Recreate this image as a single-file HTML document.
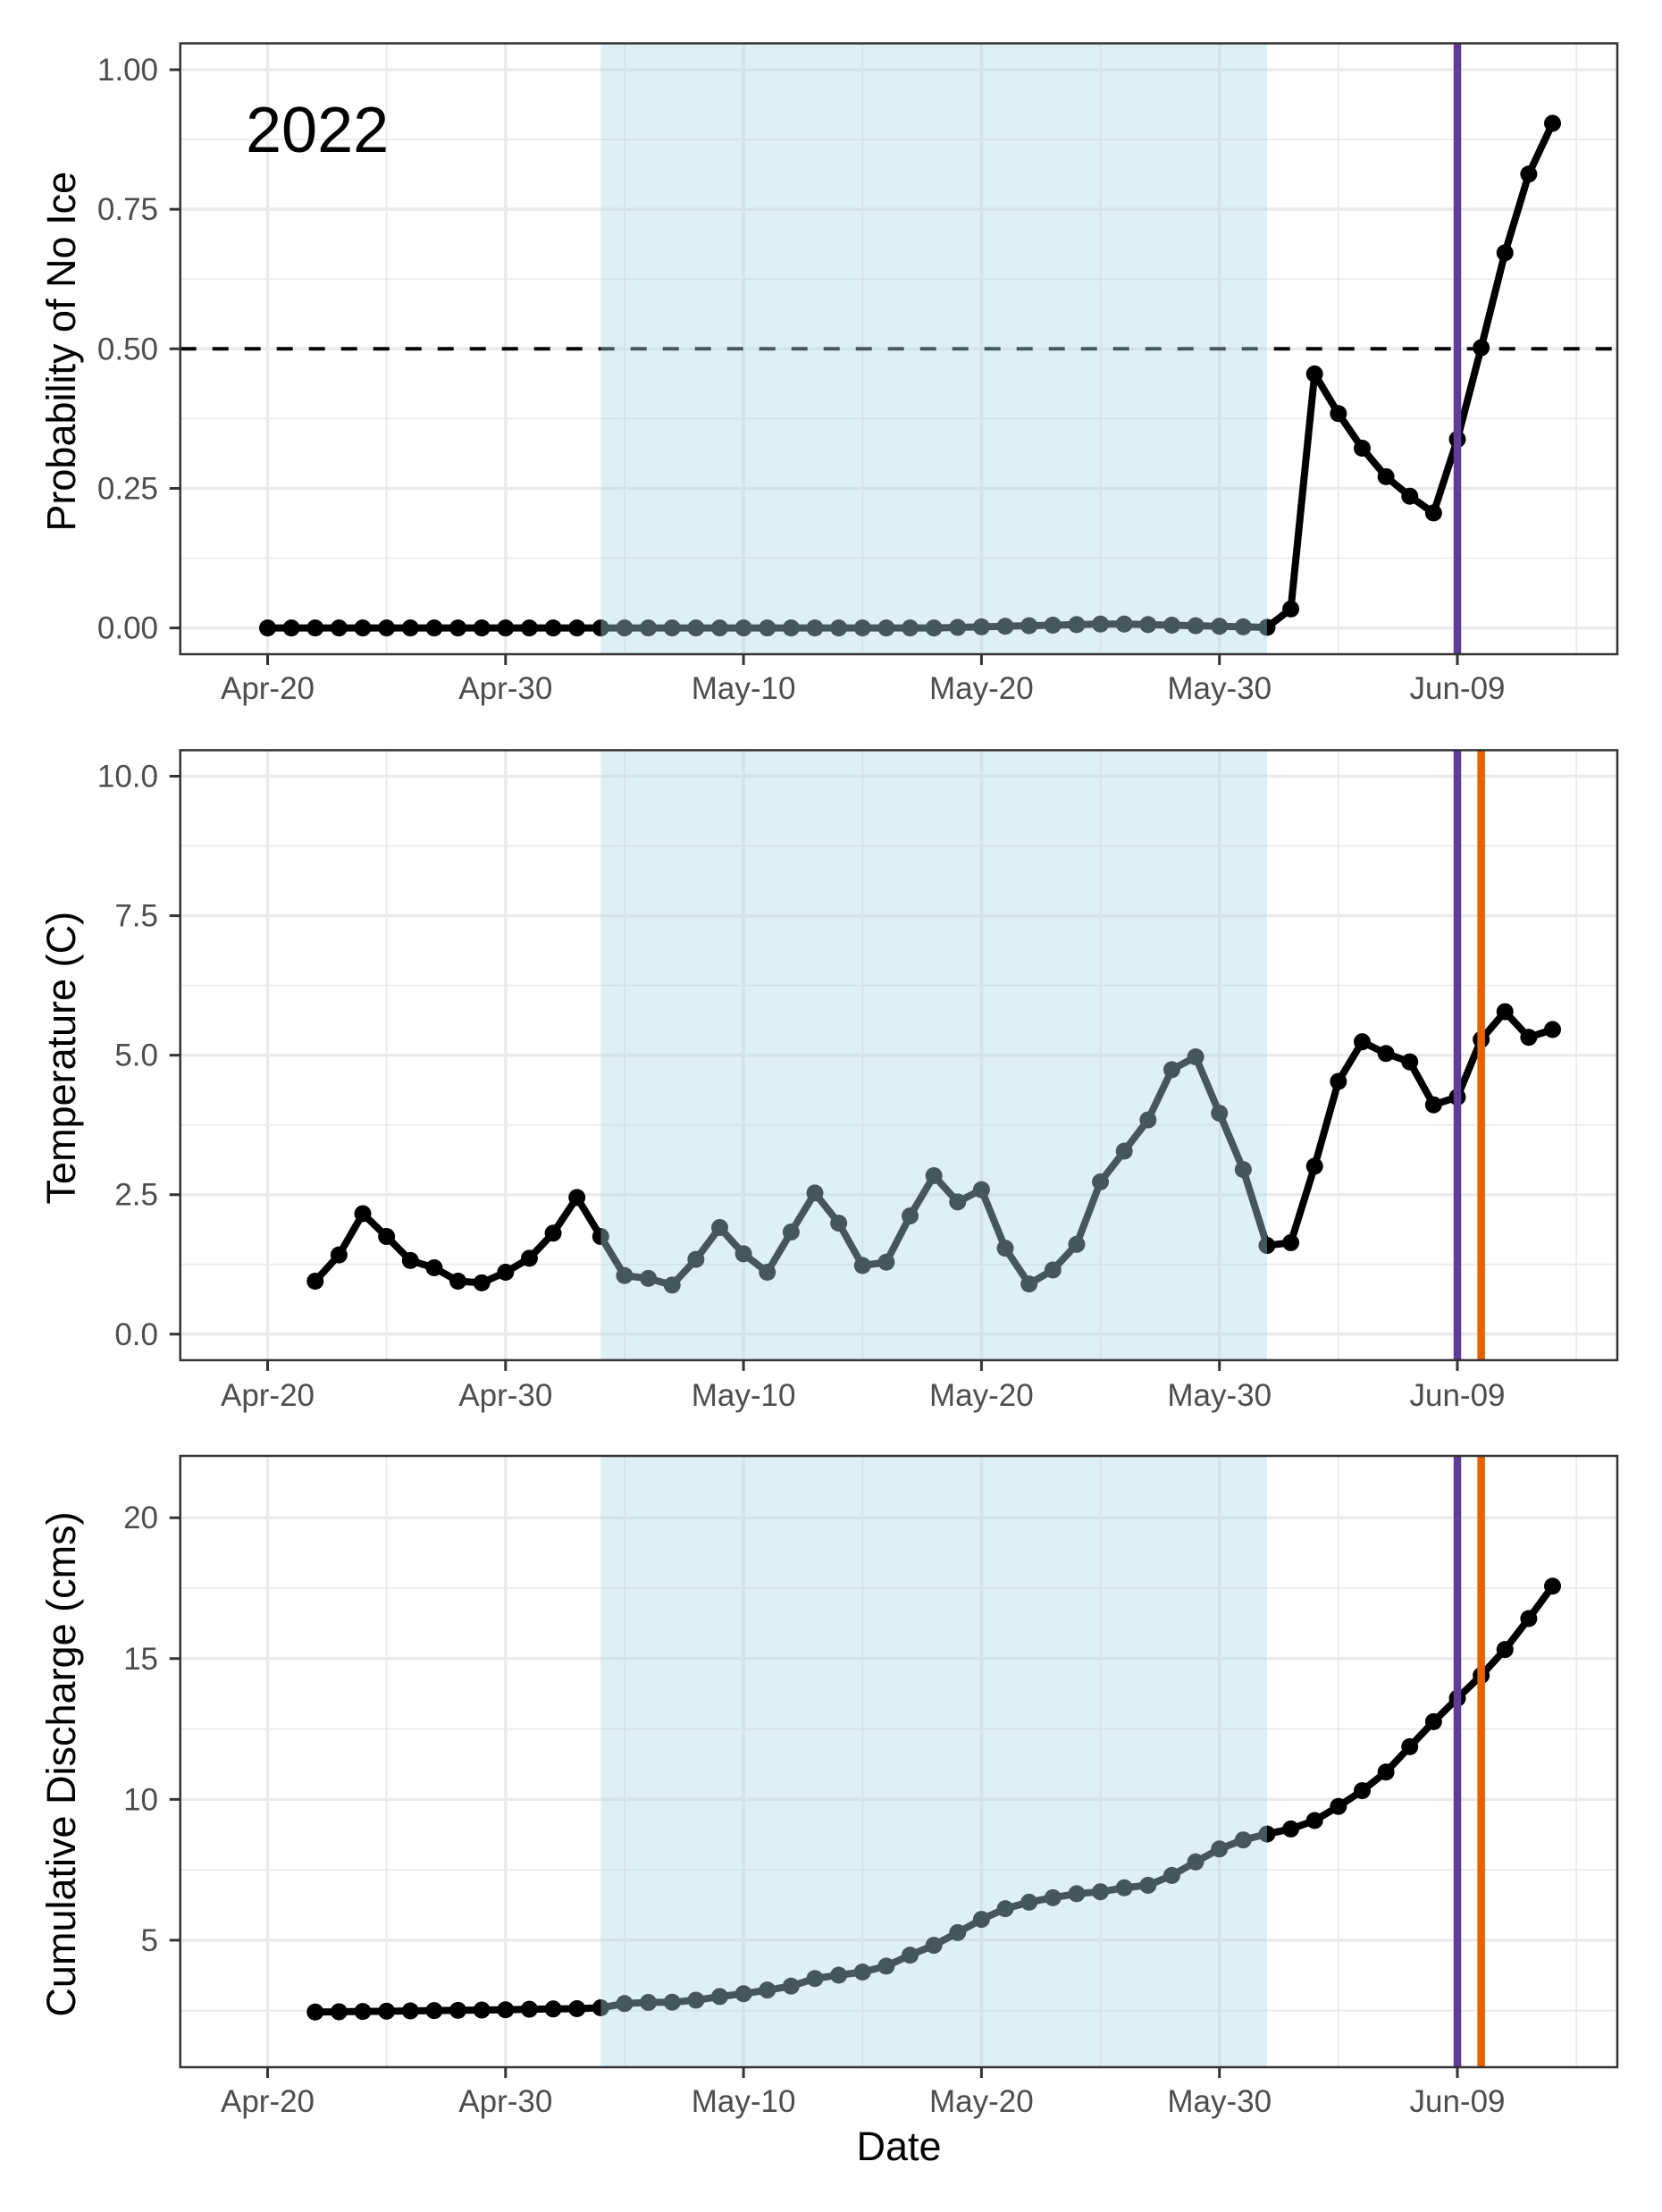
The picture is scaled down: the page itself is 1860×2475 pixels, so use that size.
<!DOCTYPE html>
<html>
<head>
<meta charset="utf-8">
<style>
html,body{margin:0;padding:0;background:#fff;}
svg{display:block;}
text{font-family:"Liberation Sans",Arial,sans-serif;}
</style>
</head>
<body>
<svg id="chart" width="1860" height="2475" viewBox="0 0 1860 2475" xmlns="http://www.w3.org/2000/svg">
<rect x="0" y="0" width="1860" height="2475" fill="#fff"/>
</svg>
<script>
// ---- data ----
const startDays = [0, 2, 2];
const dateTickLabels = ["Apr-20", "Apr-30", "May-10", "May-20", "May-30", "Jun-09"];
const dateTickDays = [0, 10, 20, 30, 40, 50];
const shadeStartDay = 14;
const shadeEndDay = 42;
const iceOutDay = 50;
const tempEventDay = 51;
const probValues = [0,0,0,0,0,0,0,0,0,0,0,0,0,0,0,0,0,0,0,0,0,0,0,0,0,0,0,0,0,0.001,0.002,0.003,0.004,0.005,0.006,0.007,0.007,0.006,0.005,0.004,0.003,0.002,0.001,0.034,0.455,0.384,0.322,0.271,0.236,0.206,0.338,0.502,0.672,0.813,0.904];
const tempValues = [0.95,1.42,2.16,1.75,1.32,1.19,0.95,0.92,1.11,1.36,1.81,2.45,1.75,1.05,1.0,0.88,1.34,1.91,1.44,1.11,1.83,2.53,1.99,1.23,1.29,2.12,2.84,2.37,2.59,1.54,0.90,1.15,1.61,2.73,3.28,3.84,4.74,4.97,3.96,2.95,1.59,1.64,3.01,4.53,5.24,5.03,4.88,4.11,4.25,5.28,5.78,5.32,5.46];
const dischargeValues = [2.45,2.46,2.47,2.48,2.49,2.50,2.51,2.52,2.53,2.55,2.56,2.57,2.60,2.75,2.79,2.80,2.87,3.0,3.1,3.23,3.37,3.64,3.76,3.87,4.08,4.47,4.82,5.27,5.74,6.12,6.35,6.51,6.65,6.72,6.86,6.95,7.30,7.78,8.24,8.56,8.77,8.95,9.25,9.75,10.31,10.97,11.87,12.76,13.59,14.40,15.32,16.42,17.57];
const probTicks = [0, 0.25, 0.5, 0.75, 1.0];
const probTickLabels = ["0.00", "0.25", "0.50", "0.75", "1.00"];
const tempTicks = [0, 2.5, 5, 7.5, 10];
const tempTickLabels = ["0.0", "2.5", "5.0", "7.5", "10.0"];
const dischargeTicks = [5, 10, 15, 20];
const dischargeTickLabels = ["5", "10", "15", "20"];

const NS = "http://www.w3.org/2000/svg";
const svg = document.getElementById("chart");
function mk(tag, attrs, parent){
  const e = document.createElementNS(NS, tag);
  for (const k in attrs) e.setAttribute(k, attrs[k]);
  (parent || svg).appendChild(e);
  return e;
}
const X0 = 201.7, X1 = 1810;
function xScale(d){ return 299.5 + 26.63 * d; }

const panels = [
  {name:"probability", top:48.5, bottom:732, v0:0, y0:702.6, v1:1, y1:78, ticks:probTicks, labels:probTickLabels, minor:[0.125,0.375,0.625,0.875], values:probValues, start:startDays[0], title:"Probability of No Ice", xlabY:782, dashed:true, lines:[iceOutDay]},
  {name:"temperature", top:839.4, bottom:1521.9, v0:0, y0:1492.8, v1:10, y1:868.5, ticks:tempTicks, labels:tempTickLabels, minor:[1.25,3.75,6.25,8.75], values:tempValues, start:startDays[1], title:"Temperature (C)", xlabY:1573, lines:[iceOutDay, tempEventDay]},
  {name:"discharge", top:1629, bottom:2313, v0:5, y0:2170.9, v1:20, y1:1698.2, ticks:dischargeTicks, labels:dischargeTickLabels, minor:[2.5,7.5,12.5,17.5], values:dischargeValues, start:startDays[2], title:"Cumulative Discharge (cms)", xlabY:2363, lines:[iceOutDay, tempEventDay]}
];
const lineColors = ["#5e3c99", "#e66101"];

panels.forEach(p => {
  const yS = v => p.y0 + (v - p.v0) * (p.y1 - p.y0) / (p.v1 - p.v0);
  const g = mk("g", {});
  
  
  mk("rect", {x:X0, y:p.top, width:X1-X0, height:p.bottom-p.top, fill:"#fff"}, g);
  p.minor.forEach(v => mk("line", {x1:X0, x2:X1, y1:yS(v), y2:yS(v), stroke:"#ebebeb", "stroke-width":1.8}, g));
  [5,15,25,35,45,55].forEach(d => mk("line", {x1:xScale(d), x2:xScale(d), y1:p.top, y2:p.bottom, stroke:"#ebebeb", "stroke-width":1.8}, g));
  p.ticks.forEach(v => mk("line", {x1:X0, x2:X1, y1:yS(v), y2:yS(v), stroke:"#ebebeb", "stroke-width":3.5}, g));
  dateTickDays.forEach(d => mk("line", {x1:xScale(d), x2:xScale(d), y1:p.top, y2:p.bottom, stroke:"#ebebeb", "stroke-width":3.5}, g));
  if (p.dashed){
    const dl = mk("line", {x1:X0, x2:X1, y1:yS(0.5), y2:yS(0.5), stroke:"#000", "stroke-width":4, "stroke-dasharray":"18 18"}, g);
    
    
  }
  const pts = p.values.map((v,i) => [xScale(p.start + i), yS(v)]);
  const path = mk("polyline", {points: pts.map(q => q.join(",")).join(" "), fill:"none", stroke:"#000", "stroke-width":8, "stroke-linejoin":"round"}, g);
  
  
  pts.forEach((q,i) => {
    const c = mk("circle", {cx:q[0], cy:q[1], r:9.5, fill:"#000"}, g);
    
    
  });
  const sh = mk("rect", {x:xScale(shadeStartDay), y:p.top, width:xScale(shadeEndDay)-xScale(shadeStartDay), height:p.bottom-p.top, fill:"#add8e6", "fill-opacity":0.4}, g);
  
  
  p.lines.forEach((d,i) => {
    const vl = mk("line", {x1:xScale(d), x2:xScale(d), y1:p.top, y2:p.bottom, stroke:lineColors[i], "stroke-width":8.5}, g);
    
    
  });
  mk("rect", {x:X0, y:p.top, width:X1-X0, height:p.bottom-p.top, fill:"none", stroke:"#333", "stroke-width":2.5}, g);
  p.ticks.forEach((v,i) => {
    mk("line", {x1:X0-12, x2:X0, y1:yS(v), y2:yS(v), stroke:"#333", "stroke-width":3}, g);
    const t = mk("text", {x:177, y:yS(v)+12, "text-anchor":"end", "font-size":35, fill:"#4d4d4d"}, g);
    
    
    t.textContent = p.labels[i];
  });
  dateTickDays.forEach((d,i) => {
    mk("line", {x1:xScale(d), x2:xScale(d), y1:p.bottom, y2:p.bottom+12, stroke:"#333", "stroke-width":3}, g);
    const t = mk("text", {x:xScale(d), y:p.xlabY, "text-anchor":"middle", "font-size":35, fill:"#4d4d4d"}, g);
    
    
    t.textContent = dateTickLabels[i];
  });
  const cy = (p.top + p.bottom) / 2 + 3;
  const yt = mk("text", {x:0, y:0, transform:"translate(84," + cy + ") rotate(-90)", "text-anchor":"middle", "font-size":45, fill:"#000"}, g);
  
  
  yt.textContent = p.title;
});

const yr = mk("text", {x:275, y:170, "font-size":72, fill:"#000"});


yr.textContent = "2022";

const xt = mk("text", {x:1006, y:2417, "text-anchor":"middle", "font-size":45, fill:"#000"});


xt.textContent = "Date";
</script>
</body>
</html>
